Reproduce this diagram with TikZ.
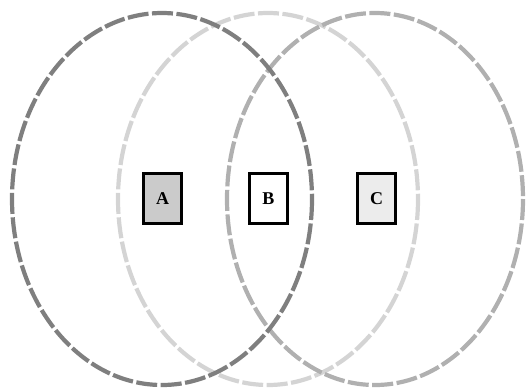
\documentclass[tikz,border=0pt]{standalone}
\usepackage{fontspec}
\setmainfont{Liberation Serif}
\definecolor{ringdark}{HTML}{7F7F7F}
\definecolor{ringlight}{HTML}{D4D4D4}
\definecolor{ringmid}{HTML}{B0B0B0}
\definecolor{fillA}{HTML}{CBCBCB}
\definecolor{fillC}{HTML}{ECECEC}
\begin{document}
\begin{tikzpicture}[x=1pt,y=-1pt,
  ring/.style={line width=4.2pt,dash pattern=on 21pt off 3.5pt},
  setbox/.style={draw=black,line width=2.8pt,minimum width=38.5pt,minimum height=50.5pt,inner sep=0pt,font=\bfseries\fontsize{18}{20}\selectfont}]
\useasboundingbox (0,0) rectangle (528,389);
\draw[ring,ringlight] (268,199) ellipse [x radius=150,y radius=186];
\draw[ring,ringmid] (375,199) ellipse [x radius=148,y radius=186];
\draw[ring,ringdark] (162,199) ellipse [x radius=150,y radius=186];
\node[setbox,fill=fillA] (A) at (162.5,198.5) {A};
\node[setbox,fill=white] (B) at (268.5,198.5) {B};
\node[setbox,fill=fillC] (C) at (376.5,198.5) {C};
\end{tikzpicture}
\end{document}
